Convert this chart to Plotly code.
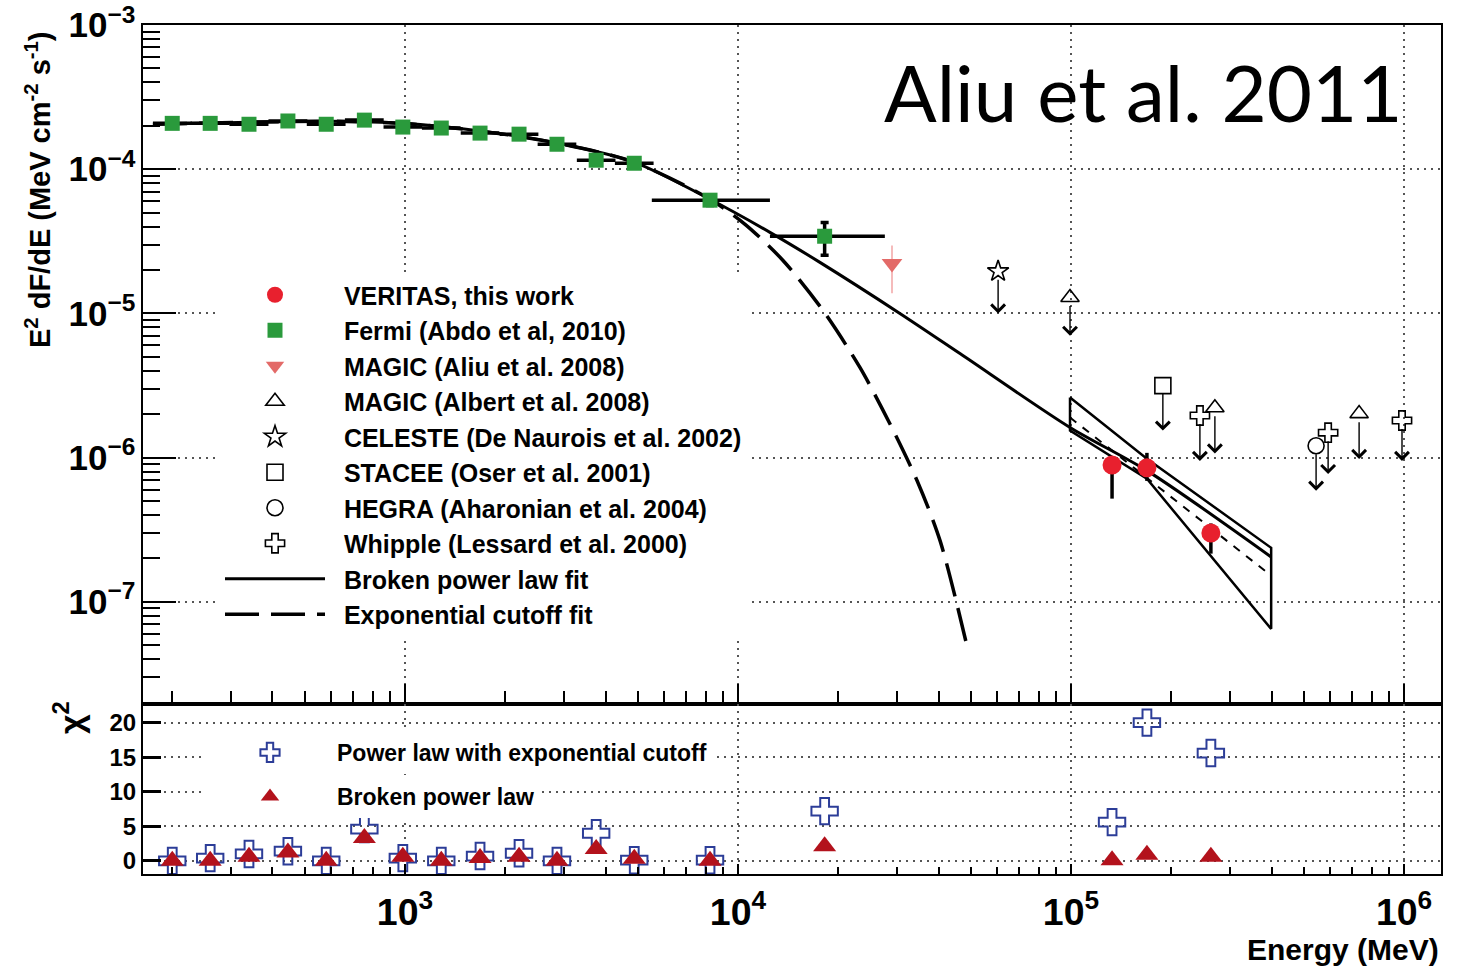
import math
import plotly.graph_objects as go

# ---------------- data ----------------
# Fermi-LAT spectral points (MeV, MeV cm^-2 s^-1)
fermi_e = [200, 260, 340, 445, 580, 755, 985, 1285, 1680, 2200, 2860, 3750, 4880, 8240, 18200]
fermi_e_lo = [175, 227, 297, 389, 507, 660, 862, 1124, 1470, 1925, 2502, 3281, 4269, 5510, 12470]
fermi_e_hi = [229, 297, 389, 509, 663, 863, 1126, 1469, 1920, 2515, 3269, 4286, 5578, 12470, 27600]
fermi_f = [2.08e-4, 2.08e-4, 2.05e-4, 2.16e-4, 2.05e-4, 2.19e-4, 1.96e-4, 1.93e-4, 1.78e-4,
           1.75e-4, 1.49e-4, 1.155e-4, 1.10e-4, 6.1e-5, 3.43e-5]
fermi_f_lo = [2.00e-4, 2.00e-4, 1.97e-4, 2.08e-4, 1.97e-4, 2.10e-4, 1.88e-4, 1.85e-4, 1.70e-4,
              1.67e-4, 1.42e-4, 1.09e-4, 1.04e-4, 5.6e-5, 2.53e-5]
fermi_f_hi = [2.16e-4, 2.16e-4, 2.13e-4, 2.24e-4, 2.13e-4, 2.28e-4, 2.04e-4, 2.01e-4, 1.86e-4,
              1.83e-4, 1.56e-4, 1.22e-4, 1.16e-4, 6.6e-5, 4.28e-5]

# VERITAS points
veritas_e = [132800, 169000, 263000]
veritas_f = [8.9e-7, 8.5e-7, 3.0e-7]
veritas_f_lo = [5.2e-7, 6.9e-7, 2.16e-7]
veritas_f_hi = [9.6e-7, 1.08e-6, 3.5e-7]

# MAGIC (Aliu et al. 2008)
magic08_e = [29000]
magic08_f = [2.22e-5]
magic08_f_lo = [1.38e-5]
magic08_f_hi = [2.96e-5]

# Upper limits: marker flux and arrow-tip flux
magic_alb_e = [99300, 270400, 733000]
magic_alb_f = [1.29e-5, 2.22e-6, 2.02e-6]
magic_alb_tip = [7.0e-6, 1.07e-6, 9.8e-7]

celeste_e = [60400]
celeste_f = [1.96e-5]
celeste_tip = [1.0e-5]

stacee_e = [188700]
stacee_f = [3.16e-6]
stacee_tip = [1.54e-6]

hegra_e = [544400]
hegra_f = [1.21e-6]
hegra_tip = [5.9e-7]

whipple_e = [243800, 591600, 986000]
whipple_f = [1.96e-6, 1.49e-6, 1.81e-6]
whipple_tip = [9.5e-7, 7.7e-7, 9.5e-7]

# Fit curves
bpl_e = [175, 343, 596, 986, 1680, 2860, 4870, 8240, 12470, 17620, 30630, 46400, 99300, 169000, 399000]
bpl_f = [2.05e-4, 2.12e-4, 2.15e-4, 2.08e-4, 1.84e-4, 1.52e-4, 1.12e-4, 6.19e-5, 3.65e-5,
         2.26e-5, 1.0e-5, 5.27e-6, 1.62e-6, 8.13e-7, 2.05e-7]
ecpl_e = [175, 343, 596, 986, 1680, 2860, 4870, 8240, 10500, 13650, 17990, 23230, 28580,
          34500, 40450, 49100]
ecpl_f = [2.05e-4, 2.12e-4, 2.15e-4, 2.08e-4, 1.84e-4, 1.52e-4, 1.12e-4, 6.19e-5, 4.15e-5,
          2.33e-5, 1.05e-5, 4.22e-6, 1.72e-6, 6.92e-7, 2.65e-7, 4.57e-8]

# VERITAS power-law fit and its confidence band
vpl_e = [99300, 399000]
vpl_f = [1.90e-6, 1.52e-7]
band_e = [99300, 169000, 399000]
band_upper = [2.61e-6, 9.84e-7, 2.37e-7]
band_lower = [1.54e-6, 7.14e-7, 6.5e-8]

# chi^2 residuals per spectral point
chi2_e = fermi_e + veritas_e
chi2_ecpl = [0.0, 0.4, 1.0, 1.4, 0.0, 4.6, 0.4, 0.0, 0.7, 1.1, 0.0, 4.0, 0.1, 0.1, 7.2, 5.6, 20.0, 15.6]
chi2_bpl = [0.0, 0.0, 0.6, 1.2, 0.0, 3.3, 0.6, 0.0, 0.4, 0.6, 0.0, 1.7, 0.3, 0.0, 2.1, 0.1, 0.9, 0.6]

# ---------------- style ----------------
FONT = "Liberation Sans"
GREEN = "#2a9a3c"
RED = "#e8202e"
SALMON = "#e36a68"
NAVY = "#2c3d98"
DARKRED = "#b3121c"
GRID = "#555555"
PAD = "\u00a0\u00a0"  # small gap between legend symbol and label

fig = go.Figure()

# fit curves
fig.add_trace(go.Scatter(x=bpl_e, y=bpl_f, mode="lines", name=PAD + "Broken power law fit",
                         line=dict(color="black", width=3, shape="spline", smoothing=0.8),
                         legendrank=9))
fig.add_trace(go.Scatter(x=ecpl_e, y=ecpl_f, mode="lines", name=PAD + "Exponential cutoff fit",
                         line=dict(color="black", width=3.5, dash="34px,12px", shape="spline",
                                   smoothing=0.8),
                         legendrank=10))

# VERITAS fit band
band_x = band_e + band_e[::-1] + [band_e[0]]
band_y = band_upper + band_lower[::-1] + [band_upper[0]]
fig.add_trace(go.Scatter(x=band_x, y=band_y, mode="lines", showlegend=False,
                         line=dict(color="black", width=2.5)))
fig.add_trace(go.Scatter(x=vpl_e, y=vpl_f, mode="lines", showlegend=False,
                         line=dict(color="black", width=2, dash="8px,8px")))

# Fermi
fig.add_trace(go.Scatter(
    x=fermi_e, y=fermi_f, mode="markers", name=PAD + "Fermi (Abdo et al, 2010)",
    marker=dict(symbol="square", size=15, color=GREEN),
    error_x=dict(type="data", symmetric=False,
                 array=[h - e for h, e in zip(fermi_e_hi, fermi_e)],
                 arrayminus=[e - l for e, l in zip(fermi_e, fermi_e_lo)],
                 color="black", thickness=3.5, width=0),
    error_y=dict(type="data", symmetric=False,
                 array=[h - f for h, f in zip(fermi_f_hi, fermi_f)],
                 arrayminus=[f - l for f, l in zip(fermi_f, fermi_f_lo)],
                 color="black", thickness=3.5, width=4),
    legendrank=2))

# MAGIC 2008
fig.add_trace(go.Scatter(
    x=magic08_e, y=magic08_f, mode="markers", name=PAD + "MAGIC (Aliu et al. 2008)",
    marker=dict(symbol="triangle-down", size=18, color=SALMON),
    error_y=dict(type="data", symmetric=False,
                 array=[h - f for h, f in zip(magic08_f_hi, magic08_f)],
                 arrayminus=[f - l for f, l in zip(magic08_f, magic08_f_lo)],
                 color="#f2a5a5", thickness=1.5, width=0),
    legendrank=3))

# VERITAS
fig.add_trace(go.Scatter(
    x=veritas_e, y=veritas_f, mode="markers", name=PAD + "VERITAS, this work",
    marker=dict(symbol="circle", size=19, color=RED),
    error_y=dict(type="data", symmetric=False,
                 array=[h - f for h, f in zip(veritas_f_hi, veritas_f)],
                 arrayminus=[f - l for f, l in zip(veritas_f, veritas_f_lo)],
                 color="black", thickness=3.5, width=0),
    legendrank=1))

# upper limits
ul_sets = [
    ("MAGIC (Albert et al. 2008)", magic_alb_e, magic_alb_f, magic_alb_tip, "triangle-up-open", 4),
    ("CELESTE (De Naurois et al. 2002)", celeste_e, celeste_f, celeste_tip, "star-open", 5),
    ("STACEE (Oser et al. 2001)", stacee_e, stacee_f, stacee_tip, "square-open", 6),
    ("HEGRA (Aharonian et al. 2004)", hegra_e, hegra_f, hegra_tip, "circle-open", 7),
    ("Whipple (Lessard et al. 2000)", whipple_e, whipple_f, whipple_tip, "cross-open", 8),
]
annotations = []
for name, es, fs, tips, sym, rank in ul_sets:
    fig.add_trace(go.Scatter(x=es, y=fs, mode="markers", name=PAD + name,
                             marker=dict(symbol=sym, size=16, color="black",
                                         line=dict(color="black", width=1.6)),
                             legendrank=rank))
    for e, f, t in zip(es, fs, tips):
        annotations.append(dict(
            x=math.log10(e), y=math.log10(t), ax=math.log10(e), ay=math.log10(f),
            xref="x", yref="y", axref="x", ayref="y", text="", showarrow=True,
            arrowhead=4, arrowsize=1.9, arrowwidth=1.4, arrowcolor="black", startstandoff=7))

# chi^2 panel
fig.add_trace(go.Scatter(x=chi2_e, y=chi2_ecpl, mode="markers", xaxis="x2", yaxis="y2",
                         name="Power law with exponential cutoff", legend="legend2",
                         marker=dict(symbol="cross-open", size=22, color=NAVY,
                                     line=dict(color=NAVY, width=2))))
fig.add_trace(go.Scatter(x=chi2_e, y=chi2_bpl, mode="markers", xaxis="x2", yaxis="y2",
                         name="Broken power law", legend="legend3",
                         marker=dict(symbol="triangle-up", size=20, color=DARKRED)))

# ---------------- layout ----------------
W, H = 1463, 968
X0, X1 = 143 / W, 1441 / W
YSPLIT = (H - 704) / H
YTOP = (H - 25) / H
YBOT = (H - 874) / H

grid = dict(showgrid=True, gridcolor=GRID, gridwidth=1.5, griddash="2px,5px")
frame = dict(showline=True, linecolor="black", linewidth=2, mirror=True, zeroline=False,
             automargin=False)
bold = dict(family=FONT, weight="bold", color="black")

fig.update_layout(
    width=W, height=H, margin=dict(l=0, r=0, t=0, b=0, autoexpand=False),
    paper_bgcolor="white", plot_bgcolor="white",
    font=dict(family=FONT, color="black"),
    xaxis=dict(type="log", range=[2.2132, 6.111], domain=[X0, X1], anchor="y", dtick=1,
               showticklabels=False, ticks="inside", ticklen=20, tickwidth=2, tickcolor="black",
               minor=dict(ticks="inside", ticklen=13, tickwidth=2, dtick="D1", tickcolor="black",
                          showgrid=False),
               **grid, **frame),
    yaxis=dict(type="log", range=[-7.708, -3], domain=[YSPLIT, YTOP], anchor="x", dtick=1,
               exponentformat="power", tickfont=dict(size=28, **bold),
               ticks="inside", ticklen=33, tickwidth=2, tickcolor="black",
               minor=dict(ticks="inside", ticklen=17, tickwidth=2, dtick="D1", tickcolor="black",
                          showgrid=False),
               **grid, **frame),
    xaxis2=dict(type="log", range=[2.2132, 6.111], domain=[X0, X1], anchor="y2", dtick=1,
                exponentformat="power", tickfont=dict(size=30, **bold),
                ticks="inside", ticklen=10, tickwidth=2, tickcolor="black", ticklabelstandoff=5,
                minor=dict(ticks="inside", ticklen=7, tickwidth=2, dtick="D1", tickcolor="black",
                           showgrid=False),
                **grid, **frame),
    yaxis2=dict(range=[-1.9, 22.7], domain=[YBOT, YSPLIT], anchor="x2",
                tickvals=[0, 5, 10, 15, 20], tickfont=dict(size=24, **bold),
                ticks="inside", ticklen=18, tickwidth=3, tickcolor="black",
                **grid, **frame),
    legend=dict(x=220 / W, y=(H - 272) / H, xanchor="left", yanchor="top",
                bgcolor="white", borderwidth=0, itemwidth=100,
                font=dict(size=25, **bold), traceorder="normal"),
    legend2=dict(x=203 / W, y=(H - 731) / H, xanchor="left", yanchor="top",
                 bgcolor="white", borderwidth=0, itemwidth=124,
                 font=dict(size=23, **bold)),
    legend3=dict(x=203 / W, y=(H - 775) / H, xanchor="left", yanchor="top",
                 bgcolor="white", borderwidth=0, itemwidth=124,
                 font=dict(size=23, **bold)),
    showlegend=True,
)

annotations += [
    dict(text="Aliu et al. 2011", x=1405 / W, y=(H - 92) / H, xref="paper", yref="paper",
         xanchor="right", yanchor="middle", showarrow=False,
         font=dict(family="Lato", size=78, color="black")),
    dict(text="E<sup>2</sup> dF/dE (MeV cm<sup>-2</sup> s<sup>-1</sup>)", x=38 / W,
         y=(H - 190) / H, xref="paper", yref="paper", xanchor="center", yanchor="middle",
         textangle=-90, showarrow=False, font=dict(size=29, **bold)),
    dict(text="χ<sup>2</sup>", x=68 / W, y=(H - 718) / H, xref="paper", yref="paper",
         xanchor="center", yanchor="middle", textangle=-90, showarrow=False,
         font=dict(size=34, **bold)),
    dict(text="Energy (MeV)", x=1441 / W, y=(H - 949) / H, xref="paper", yref="paper",
         xanchor="right", yanchor="middle", showarrow=False,
         font=dict(size=30, **bold)),
]
fig.update_layout(annotations=annotations)

fig.write_html("out.html")
